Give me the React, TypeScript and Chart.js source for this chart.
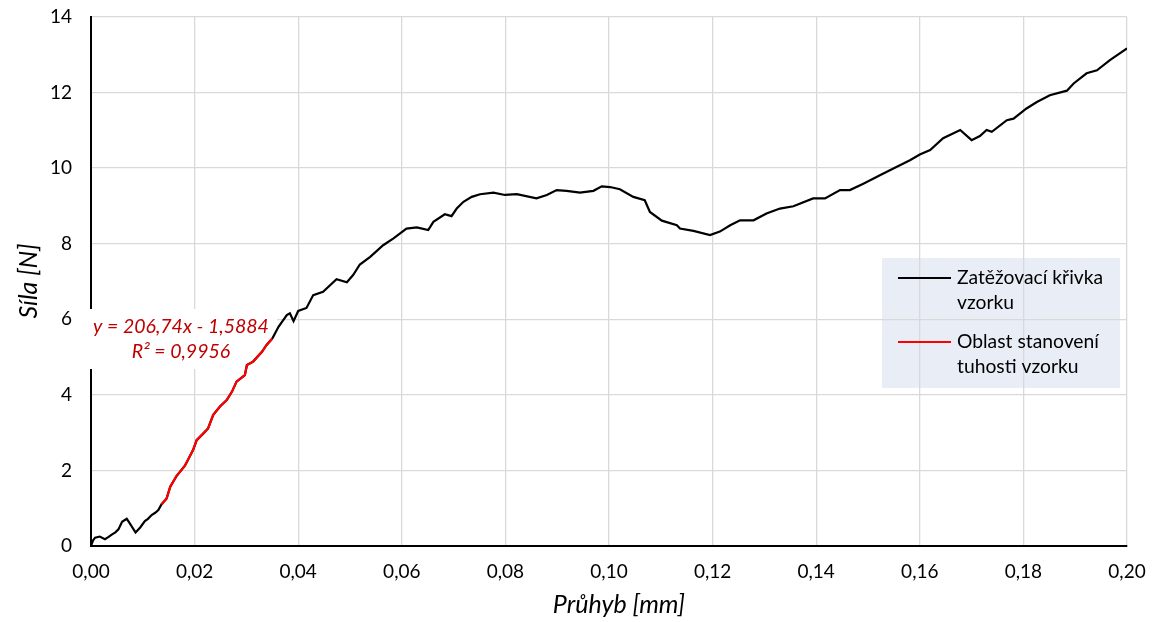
import React, { useEffect, useRef } from 'react';
import { Chart, registerables } from 'chart.js';

Chart.register(...registerables);

// Zatěžovací křivka vzorku (black)
const curveX = [
  0.0, 0.0004, 0.0008, 0.0017, 0.0027, 0.0034, 0.004, 0.0047, 0.0053, 0.006, 0.0069, 0.0074, 0.0079, 0.0086,
  0.0095, 0.0104, 0.011, 0.0117, 0.0124, 0.013, 0.0136,
  0.0146, 0.0153, 0.0165, 0.0181, 0.0191, 0.0197, 0.0204, 0.0217, 0.0226, 0.0236, 0.0249, 0.0262, 0.0272,
  0.0281, 0.0297, 0.0301, 0.0313, 0.033, 0.0339, 0.035,
  0.0362, 0.0378, 0.0384, 0.0391, 0.04, 0.0416, 0.0429, 0.0448, 0.0474, 0.0494, 0.0506, 0.0519, 0.0539,
  0.0564, 0.0584, 0.0609, 0.0629, 0.0651, 0.0661, 0.0683, 0.0696, 0.0706, 0.0719, 0.0735, 0.0751, 0.0777,
  0.0799, 0.0822, 0.086, 0.088, 0.0899, 0.0918, 0.0944, 0.097, 0.0986, 0.1002, 0.1021, 0.1047, 0.1069,
  0.1079, 0.1102, 0.1131, 0.1137, 0.1163, 0.1195, 0.1214, 0.1234, 0.1253, 0.1279, 0.1304, 0.133, 0.1356,
  0.1394, 0.1417, 0.1446, 0.1465, 0.1491, 0.1523, 0.1549, 0.1581, 0.16, 0.162, 0.1645, 0.1678, 0.17,
  0.1716, 0.1729, 0.1739, 0.1768, 0.1781, 0.1806, 0.1826, 0.1851, 0.1884, 0.1897, 0.1922, 0.1942, 0.1967, 0.2,
];
const curveY = [
  0.0, 0.15, 0.22, 0.25, 0.18, 0.24, 0.3, 0.36, 0.44, 0.64, 0.72, 0.62, 0.51, 0.36,
  0.49, 0.66, 0.72, 0.82, 0.88, 0.95, 1.1,
  1.26, 1.57, 1.85, 2.12, 2.38, 2.54, 2.8, 2.98, 3.11, 3.47, 3.69, 3.86, 4.08,
  4.35, 4.52, 4.79, 4.88, 5.14, 5.32, 5.49,
  5.8, 6.11, 6.16, 5.95, 6.22, 6.3, 6.64, 6.73, 7.06, 6.98, 7.17, 7.45, 7.65,
  7.96, 8.14, 8.4, 8.43, 8.36, 8.58, 8.78, 8.73, 8.93, 9.11, 9.24, 9.31, 9.35,
  9.29, 9.31, 9.2, 9.29, 9.42, 9.4, 9.35, 9.4, 9.52, 9.5, 9.44, 9.24, 9.15,
  8.84, 8.61, 8.49, 8.4, 8.34, 8.23, 8.32, 8.49, 8.62, 8.62, 8.8, 8.93, 8.99,
  9.2, 9.2, 9.42, 9.42, 9.59, 9.81, 9.99, 10.21, 10.36, 10.48, 10.79, 11.01, 10.74,
  10.85, 11.01, 10.96, 11.27, 11.31, 11.58, 11.75, 11.93, 12.05, 12.24, 12.51, 12.59, 12.86, 13.17,
];

// Oblast stanovení tuhosti vzorku (red)
const regionX = [
  0.0136, 0.0146, 0.0153, 0.0165, 0.0181, 0.0191, 0.0197, 0.0204, 0.0217, 0.0226, 0.0236, 0.0249, 0.0262,
  0.0272, 0.0281, 0.0297, 0.0301, 0.0313, 0.033, 0.0339, 0.035,
];
const regionY = [
  1.1, 1.26, 1.57, 1.85, 2.12, 2.38, 2.54, 2.8, 2.98, 3.11, 3.47, 3.69, 3.86,
  4.08, 4.35, 4.52, 4.79, 4.88, 5.14, 5.32, 5.49,
];

const legendLabels = [['Zatěžovací křivka', 'vzorku'], ['Oblast stanovení', 'tuhosti vzorku']];
const legendColors = ['#000000', '#ff0000'];
const equationLines = ['y = 206,74x - 1,5884', 'R² = 0,9956'];
const xTitle = 'Průhyb [mm]';
const yTitle = 'Síla [N]';

const FONT = 'Lato, "Open Sans", sans-serif';

export default function App() {
  const ref = useRef<HTMLCanvasElement | null>(null);

  useEffect(() => {
    if (!ref.current) return;
    const overlay = {
      id: 'overlay',
      beforeDraw(chart: any) {
        const ctx = chart.ctx;
        ctx.save();
        ctx.fillStyle = '#e9edf5';
        ctx.fillRect(882, 258, 238, 130);
        ctx.restore();
      },
      beforeDatasetsDraw(chart: any) {
        const ctx = chart.ctx;
        ctx.save();
        ctx.fillStyle = '#ffffff';
        ctx.fillRect(87, 309, 190, 60);
        ctx.restore();
      },
      afterDraw(chart: any) {
        const ctx = chart.ctx;
        ctx.save();
        // equation
        ctx.fillStyle = '#c00000';
        ctx.font = `italic 19.5px ${FONT}`;
        ctx.textAlign = 'center';
        ctx.textBaseline = 'middle';
        ctx.fillText(equationLines[0], 181, 327);
        ctx.fillText(equationLines[1], 181, 352);
        // legend
        ctx.font = `19.3px ${FONT}`;
        ctx.textAlign = 'left';
        const rows = [278, 342];
        rows.forEach((yy, i) => {
          ctx.strokeStyle = legendColors[i];
          ctx.lineWidth = 2;
          ctx.beginPath();
          ctx.moveTo(898, yy);
          ctx.lineTo(951, yy);
          ctx.stroke();
          ctx.fillStyle = '#000';
          ctx.fillText(legendLabels[i][0], 957, yy);
          ctx.fillText(legendLabels[i][1], 957, yy + 25);
        });
        // axis titles
        ctx.fillStyle = '#000';
        ctx.font = `italic 25px ${FONT}`;
        ctx.textAlign = 'center';
        ctx.fillText(xTitle, 619, 605);
        ctx.translate(29, 281);
        ctx.rotate(-Math.PI / 2);
        ctx.fillText(yTitle, 0, 0);
        ctx.restore();
      },
    };

    const chart = new Chart(ref.current, {
      type: 'scatter',
      data: {
        datasets: [
          {
            label: 'Oblast stanovení tuhosti vzorku',
            data: regionX.map((x, i) => ({ x, y: regionY[i] })),
            showLine: true,
            borderColor: '#ff0000',
            borderWidth: 2.2,
            pointRadius: 0,
            tension: 0,
            order: 0,
          },
          {
            label: 'Zatěžovací křivka vzorku',
            data: curveX.map((x, i) => ({ x, y: curveY[i] })),
            showLine: true,
            borderColor: '#000000',
            borderWidth: 2.2,
            pointRadius: 0,
            tension: 0,
            order: 1,
          },
        ],
      },
      options: {
        responsive: false,
        animation: false,
        layout: { padding: { top: 17, right: 27, left: 0, bottom: 0 } },
        plugins: { legend: { display: false }, tooltip: { enabled: false } },
        scales: {
          x: {
            type: 'linear',
            min: 0,
            max: 0.2,
            afterFit(scale: any) {
              scale.height = 76;
            },
            ticks: {
              stepSize: 0.02,
              padding: 0,
              color: '#000',
              font: { family: FONT, size: 19 },
              maxRotation: 0,
              callback: (v: any) => Number(v).toFixed(2).replace('.', ','),
            },
            grid: { color: '#d9d9d9', lineWidth: 1.3, drawTicks: true, tickLength: 14, tickColor: 'rgba(0,0,0,0)' },
            border: { color: '#000000', width: 2 },
          },
          y: {
            type: 'linear',
            min: 0,
            max: 14,
            afterFit(scale: any) {
              scale.width = 91;
            },
            ticks: {
              stepSize: 2,
              padding: 0,
              color: '#000',
              font: { family: FONT, size: 19 },
            },
            grid: { color: '#d9d9d9', lineWidth: 1.3, drawTicks: true, tickLength: 19, tickColor: 'rgba(0,0,0,0)' },
            border: { color: '#000000', width: 2 },
          },
        },
      },
      plugins: [overlay],
    });
    return () => chart.destroy();
  }, []);

  return (
    <div style={{ position: 'absolute', left: 0, top: 0, width: 1154, height: 622, background: '#fff' }}>
      <canvas ref={ref} width={1154} height={622} style={{ width: 1154, height: 622 }} />
    </div>
  );
}
